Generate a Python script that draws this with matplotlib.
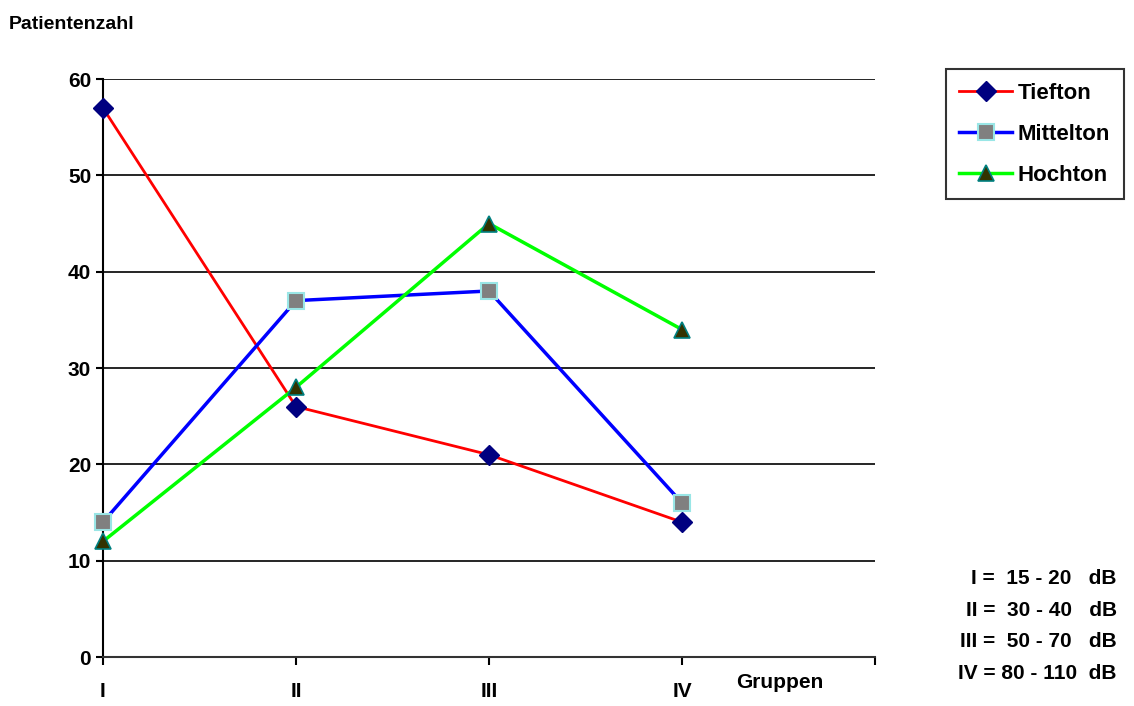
import numpy as np
import matplotlib.pyplot as plt

plt.rcParams["font.family"] = ["Liberation Sans", "DejaVu Sans"]
plt.rcParams["font.weight"] = "bold"

gruppen = ["I", "II", "III", "IV"]
tiefton = [57, 26, 21, 14]
mittelton = [14, 37, 38, 16]
hochton = [12, 28, 45, 34]
bereiche = ["I =  15 - 20   dB", "II =  30 - 40   dB",
            "III =  50 - 70   dB", "IV = 80 - 110  dB"]

fig = plt.figure(figsize=(11.34, 7.06), dpi=100)
ax = fig.add_axes([0.0908, 0.0694, 0.6808, 0.8186])

x = np.arange(len(gruppen))
ax.plot(x, tiefton, color="#ff0000", lw=2, marker="D", ms=10,
        mfc="#000080", mec="#000080", label="Tiefton", zorder=3,
        clip_on=False)
ax.plot(x, mittelton, color="#0000ff", lw=2.5, marker="s", ms=12,
        mfc="#808080", mec="#99e6e6", mew=1.5, label="Mittelton", zorder=3,
        clip_on=False)
ax.plot(x, hochton, color="#00ff00", lw=2.5, marker="^", ms=12,
        mfc="#333300", mec="#008080", mew=1.2, label="Hochton", zorder=3,
        clip_on=False)

ax.set_xlim(0, 4)
ax.set_ylim(0, 60)
ax.set_yticks(range(0, 61, 10))
ax.set_xticks(range(5))
ax.set_xticklabels(gruppen + [""])
ax.yaxis.grid(True, color="#000000", lw=1.2)
ax.set_axisbelow(True)
for side in ["top", "right"]:
    ax.spines[side].set_visible(False)
ax.spines["left"].set_linewidth(1.5)
ax.spines["bottom"].set_linewidth(1.5)
ax.spines["bottom"].set_color("#333333")
ax.tick_params(axis="both", direction="out", length=6, width=1.5,
               labelsize=15)
ax.tick_params(axis="x", pad=12)
ax.tick_params(axis="y", length=5)

fig.text(0.008, 0.965, "Patientenzahl", fontsize=14, fontweight="bold",
         ha="left", va="center")
fig.text(0.688, 0.033, "Gruppen", fontsize=15, fontweight="bold",
         ha="center", va="center")

leg = fig.legend(loc="upper left", bbox_to_anchor=(0.834, 0.902),
                 fontsize=16, frameon=True, fancybox=False,
                 edgecolor="#000000", handlelength=2.4,
                 borderpad=0.6, labelspacing=0.9, handletextpad=0.25,
                 borderaxespad=0)
leg.get_frame().set_linewidth(1.5)

for i, t in enumerate(bereiche):
    fig.text(0.985, 0.180 - i * 0.0445, t, fontsize=15, fontweight="bold",
             ha="right", va="center")

plt.savefig("out.png", dpi=100)
